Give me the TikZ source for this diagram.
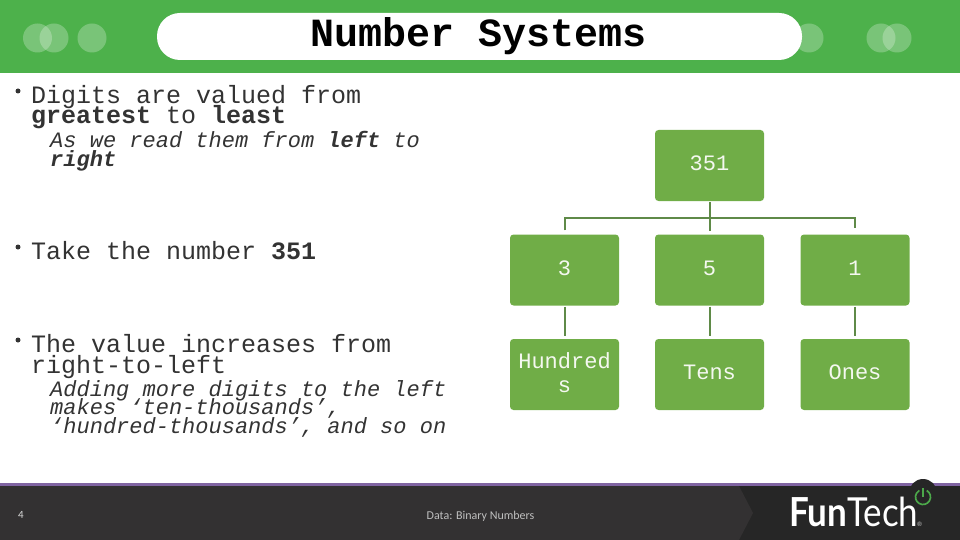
\documentclass[tikz,border=0pt]{standalone}
\usepackage{fontspec}
\setmainfont{Liberation Mono}
\newfontfamily\footfont{Carlito}
\newfontfamily\logofont{Lato}
\usetikzlibrary{calc}
\definecolor{banner}{HTML}{4DB14B}
\definecolor{boxgreen}{HTML}{70AD47}
\definecolor{linkgreen}{HTML}{5F8A48}
\definecolor{ink}{HTML}{333333}
\definecolor{footdark}{HTML}{262626}
\definecolor{footlight}{HTML}{333132}
\definecolor{footline}{HTML}{8064A2}
\definecolor{powergreen}{HTML}{4CA84A}
\newcommand\tightlines{\setlength{\lineskiplimit}{-100pt}\relax}
\tikzset{
  treebox/.style={draw=none,fill=boxgreen,rounded corners=3.5pt,minimum width=109pt,minimum height=71pt,inner sep=0pt,text=white!92!boxgreen,align=center,text depth=4pt,font=\fontsize{22}{24}\selectfont},
  link/.style={draw=linkgreen,line width=2pt},
  gap/.style={shorten >=3pt,shorten <=1pt},
  blob/.style={circle,fill=white,fill opacity=.25,draw=none,minimum size=29pt,inner sep=0pt},
  mainitem/.style={anchor=north west,inner sep=0pt,align=left,text=ink,font=\fontsize{25}{20.6}\selectfont\tightlines},
  subitem/.style={anchor=north west,inner sep=0pt,align=left,text=ink,font=\fontsize{22}{18.7}\selectfont\tightlines\itshape},
  dot/.style={circle,fill=ink,draw=none,minimum size=5pt,inner sep=0pt},
}
\begin{document}
\begin{tikzpicture}[x=1pt,y=-1pt]
\useasboundingbox (0,0) rectangle (960,540);
% banner
\fill[banner] (0,0) rectangle (960,73);
\node[blob] (b1) at (37.5,38) {};
\node[blob] (b2) at (54,38) {};
\node[blob] (b3) at (92,38) {};
\node[blob] (b4) at (809,38) {};
\node[blob] (b5) at (881,38) {};
\node[blob] (b6) at (897,38) {};
\node[draw=none,fill=white,rounded corners=23pt,minimum width=645pt,minimum height=47pt,inner sep=0pt] (pill) at (479.5,36.5) {};
\node[inner sep=0pt,anchor=base,text=black,font=\fontsize{40}{44}\selectfont\bfseries] (title) at (479,47) {Number Systems};
% text
\node[dot] (d1) at (18,91) {};
\node[mainitem] (t1) at (31,85) {Digits are valued from\\\textbf{greatest} to \textbf{least}};
\node[subitem] (t2) at (50,131.5) {As we read them from \textbf{left} to\\\textbf{right}};
\node[dot] (d2) at (18,247) {};
\node[mainitem] (t3) at (31,241.5) {Take the number \textbf{351}};
\node[dot] (d3) at (18,340) {};
\node[mainitem] (t4) at (31,334.5) {The value increases from\\right-to-left};
\node[subitem] (t5) at (50,380) {Adding more digits to the left\\makes ‘ten-thousands’,\\‘hundred-thousands’, and so on};
% tree
\node[treebox] (n351) at (709.5,165.5) {351};
\node[treebox] (n3) at (564.5,270) {3};
\node[treebox] (n5) at (709.5,270) {5};
\node[treebox] (n1) at (855,270) {1};
\node[treebox] (nh) at (564.5,374.5) {Hundred\\s};
\node[treebox] (nt) at (709.5,374.5) {Tens};
\node[treebox] (no) at (855,374.5) {Ones};
\draw[link,gap] (n351.south) -- (n5.north);
\draw[link,gap] (n3.north) ++(0,-3) |- (n1.north |- 0,218) -- ($(n1.north)+(0,-3)$);
\draw[link,gap] (n3.south) -- (nh.north);
\draw[link,gap] (n5.south) -- (nt.north);
\draw[link,gap] (n1.south) -- (no.north);
% footer
\fill[footdark] (0,485) rectangle (960,540);
\fill[footline] (0,483) rectangle (960,486);
\fill[footlight] (0,486) -- (739,486) -- (753,513) -- (739,540) -- (0,540) -- cycle;
\node[circle,fill=footdark,draw=none,minimum size=28pt,inner sep=0pt] (pw) at (923,493) {};
\coordinate (pwc) at (923,497);
\draw[powergreen,line width=1.7pt] ($(pwc)+(-60:7.5)$) arc[start angle=-60,end angle=240,radius=7.5];
\draw[powergreen,line width=1.7pt] (923,488) -- (pwc);
\node[inner sep=0pt,anchor=base,text=white!85!black,font=\footfont\fontsize{11}{13}\selectfont] (pg) at (21,518) {4};
\node[inner sep=0pt,anchor=base,text=white!75!black,font=\footfont\fontsize{12}{13}\selectfont] (ft) at (480.5,519) {Data: Binary Numbers};
\node[inner sep=0pt,anchor=base west,text=white,xscale=.875,font=\logofont\fontsize{40}{44}\selectfont] (logo) at (789,526.5) {\textbf{Fun}Tech};
\node[inner sep=0pt,anchor=base west,text=white!80!black,font=\logofont\fontsize{6}{7}\selectfont] (reg) at (917,526.5) {®};
\end{tikzpicture}
\end{document}
